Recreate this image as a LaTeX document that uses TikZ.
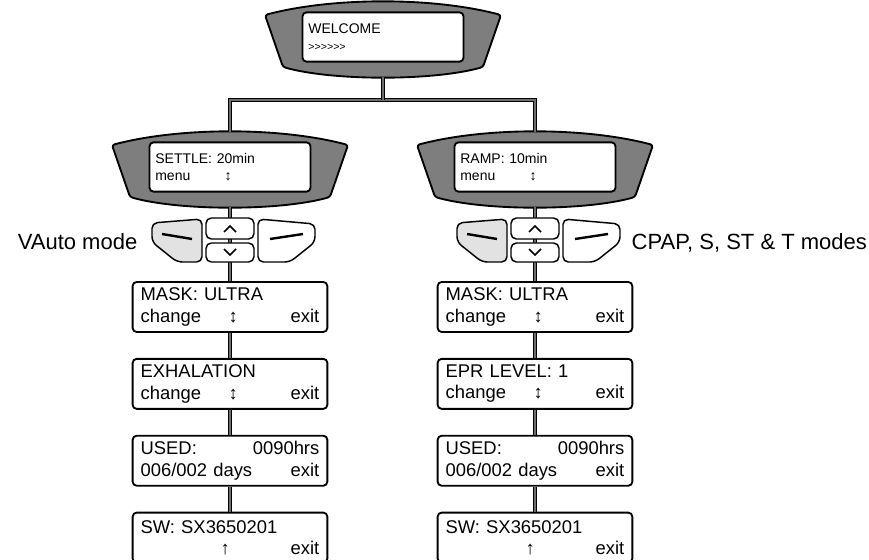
\documentclass[tikz,border=0pt]{standalone}
\usepackage{fontspec}
\setmainfont{Liberation Sans}
\usetikzlibrary{positioning,calc}
\definecolor{bezelgrey}{HTML}{7E7E7E}
\definecolor{keygrey}{HTML}{E2E2E2}
\definecolor{linkgrey}{HTML}{6E6E6E}

\tikzset{
  lcd/.style={draw=black,line width=1.4pt,rounded corners=3pt,fill=white,
              minimum width=146pt,minimum height=37.5pt,text width=134pt,
              inner sep=0pt,align=left,font=\fontsize{13.8}{16}\selectfont},
  screen/.style={draw=black,line width=1.4pt,rounded corners=3pt,fill=white,
              minimum width=120.75pt,minimum height=37pt,text width=112pt,
              inner sep=0pt,align=left,font=\fontsize{10.5}{12.75}\selectfont},
  bezel/.style={draw=black,line width=1.4pt,fill=bezelgrey,rounded corners=2pt},
  link/.style={draw=black,line width=0.9pt,double=linkgrey,double distance=1.5pt},
  key/.style={draw=black,line width=1.1pt,fill=white,rounded corners=4pt},
  softkey/.style={key,fill=keygrey},
  mode/.style={font=\fontsize{16.5}{19}\selectfont}
}

\begin{document}
\begin{tikzpicture}[x=0.75pt,y=-0.75pt]
  \useasboundingbox (0,0) rectangle (869,560);

  % displays with their bezels
  \foreach \cx/\cy/\n/\txt in {
    383/37/wel/{WELCOME\\{\fontsize{8}{9}\selectfont >{}>{}>{}>{}>{}>}},
    230/167/set/{SETTLE: 20min\\\makebox[52pt][l]{menu}\textbf{↕}},
    535/167/ramp/{RAMP: 10min\\\makebox[52pt][l]{menu}\textbf{↕}}} {
    \begin{scope}[shift={(\cx,\cy)}]
      \draw[bezel] (-118,-22) .. controls (-50,-40) and (50,-40) .. (118,-22)
        -- (100,30) .. controls (50,44) and (-50,44) .. (-100,30) -- cycle;
      \coordinate (\n-top) at (0,-35);
      \coordinate (\n-bot) at (0,40);
      \node[screen] (\n) at (0,0) {\txt};
    \end{scope}
  }

  % menu entries, VAuto side
  \node[lcd] (lmask) at (230,307)
    {MASK: ULTRA\\\makebox[134pt][s]{\makebox[66pt][l]{change}\textbf{↕}\hfill exit}};
  \node[lcd,below=18.75pt of lmask] (lexh)
    {EXHALATION\\\makebox[134pt][s]{\makebox[66pt][l]{change}\textbf{↕}\hfill exit}};
  \node[lcd,below=18.75pt of lexh] (lused)
    {\makebox[134pt][s]{USED:\hfill 0090hrs}\\\makebox[134pt][s]{006/002 days\hfill exit}};
  \node[lcd,below=18.75pt of lused] (lsw)
    {SW: SX3650201\\\makebox[134pt][s]{\hspace*{60pt}\textbf{↑}\hfill exit}};

  % menu entries, CPAP side
  \node[lcd] (rmask) at (535,307)
    {MASK: ULTRA\\\makebox[134pt][s]{\makebox[66pt][l]{change}\textbf{↕}\hfill exit}};
  \node[lcd,below=18.75pt of rmask] (repr)
    {EPR LEVEL: 1\\\makebox[134pt][s]{\makebox[66pt][l]{change}\textbf{↕}\hfill exit}};
  \node[lcd,below=18.75pt of repr] (rused)
    {\makebox[134pt][s]{USED:\hfill 0090hrs}\\\makebox[134pt][s]{006/002 days\hfill exit}};
  \node[lcd,below=18.75pt of rused] (rsw)
    {SW: SX3650201\\\makebox[134pt][s]{\hspace*{60pt}\textbf{↑}\hfill exit}};

  % connections
  \coordinate (bus) at (383,100);
  \draw[link] (set-top) |- (bus) -| (ramp-top);
  \draw[link] (wel-bot) -- (bus);
  \draw[link] (set-bot) -- (lmask.north);
  \draw[link] (ramp-bot) -- (rmask.north);
  \foreach \a/\b in {lmask/lexh,lexh/lused,lused/lsw,rmask/repr,repr/rused,rused/rsw}
    \draw[link] (\a.south) -- (\b.north);

  % keypads
  \foreach \cx in {230,535} {
    \begin{scope}[shift={(\cx,0)}]
      \draw[softkey] (-28,219) -- (-28,262) -- (-53,262) -- (-78,242) -- (-78,223) -- cycle;
      \draw[line width=1.8pt] (-68,234) -- (-38,239);
      \draw[key] (28,219) -- (85,224) -- (85,242) -- (60,262) -- (28,262) -- cycle;
      \draw[line width=1.8pt] (40,239) -- (73,234);
      \draw[key] (-24,218) rectangle (24,239);
      \draw[key] (-24,243) rectangle (24,262);
      \draw[line width=1.3pt] (-6,232) -- (0,226) -- (6,232);
      \draw[line width=1.3pt] (-6,249) -- (0,255) -- (6,249);
    \end{scope}
  }

  \node[mode,anchor=base east] (vauto) at (142,249) {VAuto mode};
  \node[mode,anchor=base west] (cpap) at (627,249) {CPAP, S, ST \& T modes};
\end{tikzpicture}
\end{document}
